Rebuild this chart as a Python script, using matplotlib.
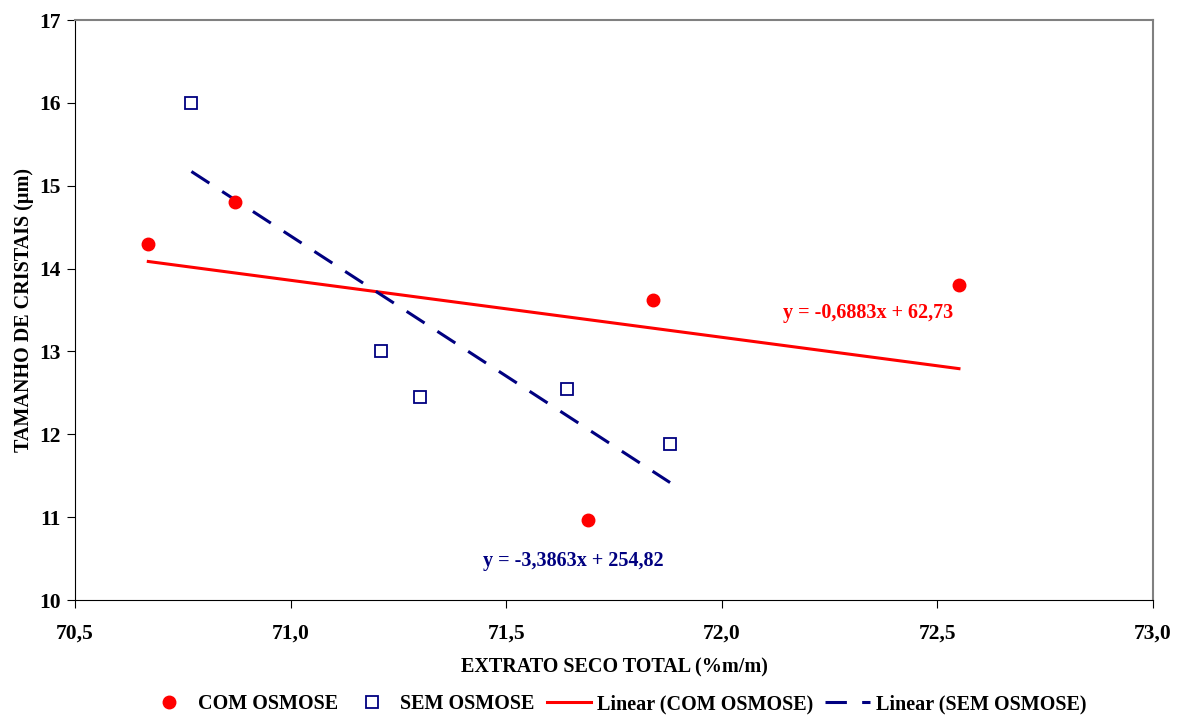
import numpy as np
import matplotlib
matplotlib.use("Agg")
import matplotlib.pyplot as plt

com_x = [70.67, 70.87, 71.69, 71.84, 72.55]
com_y = [14.30, 14.80, 10.97, 13.62, 13.80]
sem_x = [70.77, 71.21, 71.30, 71.64, 71.88]
sem_y = [16.00, 13.00, 12.45, 12.55, 11.88]

plt.rcParams['font.family'] = ['Liberation Serif', 'DejaVu Serif']
plt.rcParams['font.weight'] = 'bold'

fig = plt.figure(figsize=(11.79, 7.2), dpi=100)
ax = fig.add_axes([75/1179, 120/720, 1078/1179, 580/720])

RED = '#ff0000'
NAVY = '#000080'

ax.plot(com_x, com_y, 'o', color=RED, ms=9, label='COM OSMOSE', zorder=3)
ax.plot(sem_x, sem_y, 's', mfc='white', mec=NAVY, mew=1.3, ms=9, label='SEM OSMOSE', zorder=3)

# linear trend lines over each series' x range
p1 = np.polyfit(com_x, com_y, 1)
p2 = np.polyfit(sem_x, sem_y, 1)
xx1 = np.array([min(com_x), max(com_x)])
xx2 = np.array([min(sem_x), max(sem_x)])
ax.plot(xx1, np.polyval(p1, xx1), '-', color=RED, lw=2.2, label='Linear (COM OSMOSE)')
ax.plot(xx2, np.polyval(p2, xx2), color=NAVY, lw=2.2, dashes=(7, 5), label='Linear (SEM OSMOSE)')

ax.text(72.34, 13.46, 'y = -0,6883x + 62,73', color=RED, fontsize=14.5, fontweight='bold',
        ha='center', va='center')
ax.text(71.655, 10.47, 'y = -3,3863x + 254,82', color=NAVY, fontsize=14.5, fontweight='bold',
        ha='center', va='center')

ax.set_xlim(70.5, 73.0)
ax.set_ylim(10, 17)
ax.set_xticks([70.5, 71.0, 71.5, 72.0, 72.5, 73.0])
ax.set_xticklabels(['70,5', '71,0', '71,5', '72,0', '72,5', '73,0'])
ax.set_yticks(range(10, 18))
ax.tick_params(direction='out', length=6, labelsize=15.5, pad=11)
ax.tick_params(axis='y', pad=4)
ax.spines['top'].set_color('#808080')
ax.spines['right'].set_color('#808080')
ax.spines['top'].set_linewidth(1.5)
ax.spines['right'].set_linewidth(1.5)

ax.set_xlabel('EXTRATO SECO TOTAL (%m/m)', fontsize=14.5, fontweight='bold', labelpad=10)
ax.set_ylabel('TAMANHO DE CRISTAIS (µm)', fontsize=14.5, fontweight='bold', labelpad=4)

fig.legend(loc='lower center', bbox_to_anchor=(0.523, -0.017), ncol=4, frameon=False,
           fontsize=14.5, handlelength=2.2, columnspacing=0.6, handletextpad=0.3)

fig.savefig('out.png', dpi=100)
